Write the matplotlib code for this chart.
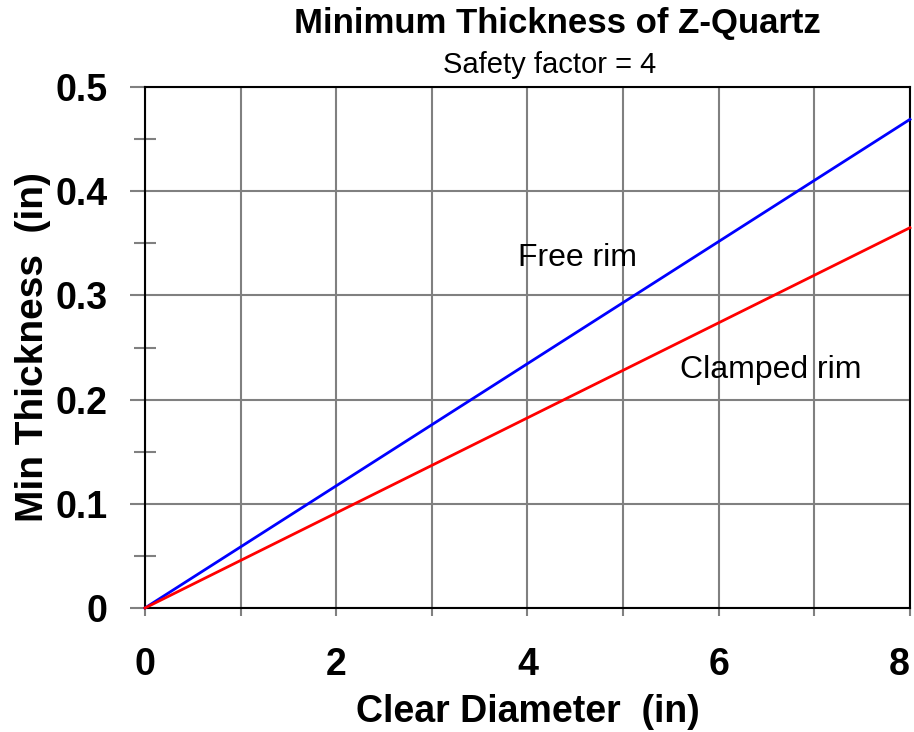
import matplotlib
matplotlib.use("Agg")
import matplotlib.pyplot as plt
from matplotlib.ticker import MultipleLocator

plt.rcParams['font.family'] = ['Liberation Sans', 'DejaVu Sans']

# Data (straight lines from origin)
diameter = [0, 8]
free_rim = [0, 0.469]
clamped_rim = [0, 0.365]

x_ticks = [0, 2, 4, 6, 8]
y_ticks = [0, 0.1, 0.2, 0.3, 0.4, 0.5]
y_tick_labels = ["0", "0.1", "0.2", "0.3", "0.4", "0.5"]

fig = plt.figure(figsize=(9.14, 7.32), dpi=100)
ax = fig.add_axes([0.1586, 0.1694, 0.8370, 0.7117])

ax.plot(diameter, free_rim, color="#0000FF", lw=2, zorder=3, clip_on=False)
ax.plot(diameter, clamped_rim, color="#FF0000", lw=2, zorder=3, clip_on=False)

ax.set_xlim(0, 8)
ax.set_ylim(0, 0.5)

# grid every 1 in x, every 0.1 in y
ax.set_xticks(range(0, 9))
ax.set_xticklabels([str(v) if v in x_ticks else "" for v in range(0, 9)])
ax.set_yticks(y_ticks)
ax.set_yticklabels(y_tick_labels)
ax.yaxis.set_minor_locator(MultipleLocator(0.05))
ax.grid(True, which="major", color="#808080", lw=1.5)

ax.tick_params(axis="x", which="major", direction="out", length=6, width=1.5,
               color="#808080", pad=22, labelsize=27)
ax.tick_params(axis="y", which="major", direction="out", length=11, width=1.5,
               color="#808080", pad=16, labelsize=27)
ax.tick_params(axis="y", which="minor", direction="inout", length=16, width=1.5,
               color="#808080")
for lab in ax.get_xticklabels() + ax.get_yticklabels():
    lab.set_fontweight("bold")
# last x label sits flush with the right edge
ax.get_xticklabels()[-1].set_horizontalalignment("right")
ax.get_xticklabels()[-1].set_x(8.07)

for side in ["left", "bottom", "top", "right"]:
    ax.spines[side].set_color("black")
    ax.spines[side].set_linewidth(1.5)

ax.set_xlabel("Clear Diameter  (in)", fontsize=27, fontweight="bold", labelpad=8)
ax.set_ylabel("Min Thickness  (in)", fontsize=28, fontweight="bold", labelpad=3)

fig.text(0.610, 0.955, "Minimum Thickness of Z-Quartz", ha="center", va="baseline",
         fontsize=25, fontweight="bold")
fig.text(0.601, 0.900, "Safety factor = 4", ha="center", va="baseline", fontsize=21)

ax.text(4.52, 0.336, "Free rim", ha="center", va="center", fontsize=23)
ax.text(6.54, 0.228, "Clamped rim", ha="center", va="center", fontsize=23)

fig.savefig("out.png", dpi=100)
